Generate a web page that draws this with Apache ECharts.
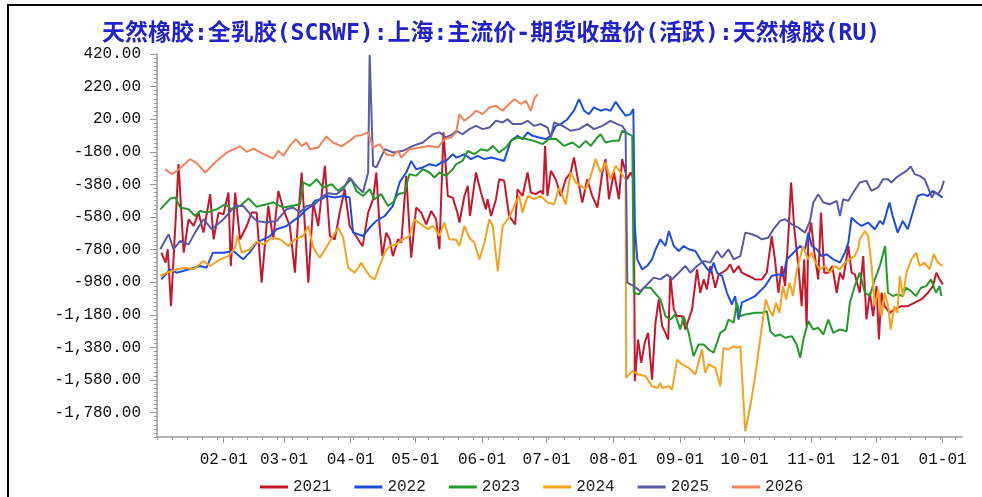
<!DOCTYPE html>
<html>
<head>
<meta charset="utf-8">
<script src="https://cdn.jsdelivr.net/npm/echarts@6/dist/echarts.min.js"></script>
<style>
html, body { margin: 0; padding: 0; background: #fff; }
#chart { width: 982px; height: 497px; }
#frame { position: absolute; left: 7px; top: 4px; right: 0; bottom: 0;
  border-top: 2px solid #000; border-left: 2px solid #000; pointer-events: none; }
</style>
</head>
<body>
<div id="chart"></div>
<div id="frame"></div>
<script>
// x = day of year (0 = 01-01), y = spread
const years = ['2021', '2022', '2023', '2024', '2025', '2026'];
const colors = ['#c8162e', '#1c4fe0', '#239a2a', '#f6a21c', '#5a5aa8', '#f4825a'];

const monthDays = [31, 59, 90, 120, 151, 181, 212, 243, 273, 304, 334, 365];
const monthLabels = ['02-01', '03-01', '04-01', '05-01', '06-01', '07-01',
  '08-01', '09-01', '10-01', '11-01', '12-01', '01-01'];
const yLabelValues = [420, 220, 20, -180, -380, -580, -780, -980, -1180, -1380, -1580, -1780];

const d2021 = [[2,-799],[4,-860],[5,-778],[6.5,-1127],[8.5,-635],[10,-256],[12.4,-799],[14.7,-594],[17,-635],[19.3,-553],
  [21.6,-676],[24.7,-440],[26.3,-717],[28.6,-553],[30.9,-563],[33.2,-430],[34.3,-881],[36.3,-430],[38.6,-717],[41.7,-635],
  [44,-553],[46.3,-553],[48.6,-983],[51.7,-512],[54,-717],[56.4,-420],[58.7,-533],[61.7,-635],[64.1,-922],[65.6,-574],
  [67.2,-307],[68.7,-635],[70.3,-983],[72.6,-491],[74.9,-635],[78,-266],[80.3,-697],[82.6,-717],[84.9,-553],[87.2,-410],
  [89.5,-635],[92.6,-700],[95.5,-760],[98.1,-553],[100.4,-471],[101.9,-307],[103.4,-635],[104.7,-820],[106.5,-676],[108.1,-717],
  [109.6,-820],[112,-717],[113.5,-737],[115.8,-328],[118.1,-830],[120.4,-522],[122.7,-553],[125.1,-625],[127.4,-543],[129.7,-594],
  [131.2,-778],[133.1,-61],[135.1,-451],[137.4,-461],[139.7,-560],[140.5,-614],[142.8,-451],[144.4,-389],[145.4,-574],[146.7,-451],
  [148.2,-307],[150.5,-430],[152.8,-533],[153.6,-471],[155.2,-574],[157.5,-471],[159,-348],[161.3,-358],[163.6,-574],[166.4,-625],
  [167.5,-410],[169.8,-451],[172.2,-307],[173.7,-430],[176,-440],[178.3,-420],[179.4,-440],[180.3,-144],[181.4,-451],[183,-297],
  [185.3,-350],[187.6,-451],[189.9,-348],[192.2,-307],[193.7,-215],[196.1,-389],[197.6,-491],[199.9,-348],[202.2,-451],[204.6,-522],
  [206.9,-307],[208.4,-225],[210,-471],[212.3,-307],[214.6,-471],[216.1,-225],[218.5,-348],[220,-307],[221.5,-348],[222,-1588],
  [223.5,-1332],[225,-1475],[226.6,-1352],[228.2,-1291],[230,-1578],[231.6,-1229],[233.1,-1086],[234.7,-1250],[236.2,-1291],[237.5,-1332],
  [238.5,-942],[240.1,-1147],[241.6,-1188],[243.9,-1188],[245.5,-1270],[247,-1209],[248.6,-1147],[250.9,-901],[252.4,-1045],[254,-963],
  [255.5,-1024],[257.1,-881],[259.4,-1014],[261,-932],[262.5,-922],[264.8,-901],[266.3,-871],[267.9,-922],[270.2,-881],[271.7,-922],
  [274.8,-942],[278,-963],[281,-963],[283.3,-922],[285.6,-697],[287.1,-840],[288.7,-1045],[290.3,-881],[291.8,-1004],[293.3,-697],
  [294.6,-368],[296.1,-655],[298,-881],[299.5,-1127],[300.7,-840],[301.8,-1250],[302.6,-717],[303.9,-614],[305.4,-799],[307.2,-963],
  [308.5,-553],[310,-922],[311.9,-922],[313.7,-881],[315.8,-1045],[317.3,-922],[318.8,-963],[321.2,-758],[322.7,-922],[324.2,-932],
  [326.5,-1045],[328.1,-820],[329.6,-1209],[331.2,-1045],[332.7,-1188],[334.3,-1004],[335.4,-1332],[336.6,-1045],[338.1,-1127],[340.4,-1168],
  [342.7,-1147],[345.8,-1127],[348.9,-1127],[352,-1106],[355.1,-1086],[358.2,-1045],[360.5,-1004],[362.1,-922],[363.6,-963],[365.1,-994]];

const d2022 = [[2,-963],[6,-901],[9,-922],[12,-912],[15,-901],[20,-881],[23,-891],[26,-799],[31,-799],[35.5,-789],
  [40,-840],[43,-799],[46.3,-737],[52.5,-697],[55.6,-655],[60.2,-635],[63.3,-604],[66.4,-574],[69.5,-533],[71.8,-512],
  [73.3,-481],[76.4,-471],[78.7,-451],[82.6,-461],[86.5,-451],[89.5,-461],[91.1,-676],[93.4,-686],[95.7,-697],[98.8,-645],
  [101.9,-604],[105.8,-574],[109.6,-512],[112.7,-368],[115.8,-307],[118.1,-236],[120.4,-287],[123.5,-276],[126.6,-256],[129.7,-266],
  [132,-246],[134.3,-236],[137.4,-195],[139,-215],[141.3,-205],[142.8,-195],[145.9,-225],[149,-205],[152.1,-225],[155.2,-215],
  [158.3,-225],[161.3,-236],[164.4,-113],[167.5,-82],[169.8,-102],[172.2,-61],[174.5,-82],[177.5,-92],[180.6,-102],[183,-82],
  [185.3,-21],[187.6,-10],[190.7,20],[193.7,72],[196.1,143],[198.4,72],[200.7,51],[203,92],[206.1,72],[208.4,82],
  [210.7,72],[213.1,127],[215.4,82],[217.7,41],[220,51],[221.3,82],[222,-635],[223.1,-840],[225.4,-901],[227.7,-881],
  [230,-840],[231.6,-780],[233.9,-717],[236.2,-758],[237.8,-666],[240.1,-758],[242.4,-789],[244.7,-758],[247,-778],[250.1,-789],
  [252.4,-840],[254.7,-881],[257.1,-922],[258.6,-860],[260.2,-922],[262.5,-942],[264.8,-1045],[267.1,-1117],[268.6,-1065],[270.2,-1209],
  [271.7,-1106],[274.8,-1086],[277.9,-1065],[282.5,-1004],[285.6,-942],[288.7,-932],[291,-942],[292.6,-840],[295.7,-799],[298.8,-758],
  [301.1,-778],[302.6,-676],[304.2,-758],[306.5,-778],[308.8,-820],[311.1,-809],[314.2,-840],[317.3,-860],[319.6,-799],[321.2,-737],
  [322.7,-584],[325.1,-614],[327.3,-635],[330.4,-614],[333.5,-655],[335.8,-604],[337.4,-625],[340.3,-491],[341.8,-574],[344.1,-676],
  [346.5,-604],[348.8,-655],[351.1,-553],[353.4,-451],[355.7,-440],[358.1,-451],[360.4,-420],[362.7,-440],[365,-461]];

const d2023 = [[1.5,-533],[6.2,-467],[8.5,-461],[10.8,-522],[14.7,-533],[17.7,-574],[20,-543],[23.2,-553],[27.8,-533],[31.6,-502],
  [34.7,-533],[38.6,-512],[42.5,-467],[46.3,-517],[50.9,-502],[54,-491],[58.7,-522],[62.5,-512],[66.4,-502],[67.9,-368],
  [71,-389],[74.1,-348],[77.2,-399],[81.1,-379],[84.2,-420],[87.2,-389],[90.3,-348],[92.6,-420],[95.7,-451],[98.8,-410],
  [101.1,-471],[104.2,-440],[107.3,-512],[109.6,-491],[112,-440],[115,-430],[117.3,-317],[120.4,-328],[123.5,-287],[126.6,-307],
  [128.9,-338],[131.2,-307],[134.3,-328],[137.4,-287],[139,-256],[142,-236],[144.4,-174],[147.4,-195],[150.5,-164],[153.6,-174],
  [156,-144],[159,-184],[162.1,-154],[164.4,-113],[167.5,-92],[171.4,-102],[175.2,-113],[179.1,-133],[182.2,-102],[185.3,-100],
  [189.1,-144],[193,-123],[196.1,-154],[199.2,-113],[201.5,-144],[204.6,-92],[206.1,-72],[208.4,-123],[211.5,-113],[214.6,-113],
  [216.1,-51],[219.2,-72],[220.8,-82],[221.5,-1045],[223.9,-1055],[226.2,-1014],[229.3,-1014],[231.6,-1050],[233.9,-1086],[236.2,-1188],
  [238.5,-1209],[240.8,-1178],[243.1,-1270],[244.7,-1188],[247,-1291],[249.3,-1434],[251.6,-1362],[254,-1362],[256.3,-1393],[258.6,-1413],
  [261.7,-1291],[264,-1270],[265.5,-1209],[267.9,-1229],[269.4,-1106],[271,-1188],[273.3,-1178],[277.9,-1168],[281,-1168],[283.3,-1158],
  [285,-1281],[287.2,-1311],[289.5,-1301],[291.8,-1321],[294.9,-1311],[297.2,-1362],[298.8,-1444],[300.3,-1332],[302.6,-1219],[304.9,-1270],
  [307.2,-1260],[309.6,-1301],[311.9,-1209],[314.2,-1291],[317.3,-1270],[320.4,-1281],[321.9,-1106],[324.2,-1004],[326.5,-922],[328.9,-1045],
  [331.2,-1065],[333.5,-963],[335.8,-881],[338.3,-758],[339.6,-1045],[341.9,-1065],[344.1,-1055],[346.4,-1065],[348,-1014],[350.3,-1035],
  [352.6,-1065],[355,-1014],[357.3,-1004],[359.6,-963],[361.9,-1045],[363.6,-1004],[364.4,-1065]];

const d2024 = [[1.5,-942],[4.6,-922],[9.3,-901],[13.1,-891],[17,-901],[21.6,-850],[24.7,-881],[29.3,-840],[33.2,-820],[36.3,-768],
  [37.4,-697],[39.4,-799],[43.2,-778],[46.3,-730],[49.4,-748],[53.3,-707],[57.1,-717],[61,-758],[64.1,-717],[67.9,-697],
  [70.3,-635],[72.6,-768],[75.6,-830],[77.2,-799],[81.8,-697],[84.2,-645],[86.5,-707],[88.8,-891],[91.9,-922],[95,-860],
  [95.7,-881],[98.8,-942],[101.1,-963],[103.4,-881],[105.8,-799],[108.1,-758],[111.2,-748],[114.3,-717],[117.3,-697],[119.6,-594],
  [122.7,-625],[125.8,-655],[128.2,-635],[131.2,-697],[133.5,-614],[135.8,-717],[139,-720],[140.5,-758],[142.8,-635],[145.1,-707],
  [147.4,-737],[149.8,-840],[152.1,-737],[154.4,-594],[156,-635],[158.3,-912],[160.6,-635],[163.6,-584],[166.7,-491],[168.3,-451],
  [169.8,-553],[172.2,-451],[175.2,-471],[178.3,-451],[181.4,-491],[184.5,-502],[186.8,-400],[189.9,-502],[192.2,-307],[194.5,-368],
  [196.9,-389],[199.2,-410],[201.5,-328],[203.8,-225],[206.1,-307],[208.4,-246],[210.7,-348],[213.1,-266],[215.4,-307],[217.7,-348],
  [218,-1567],[220.8,-1526],[223.9,-1547],[227,-1557],[230,-1619],[232.4,-1629],[233.9,-1600],[234.7,-1629],[237.8,-1619],[239.3,-1639],
  [241.6,-1455],[243.9,-1485],[247,-1506],[250.1,-1547],[253.2,-1393],[254.7,-1536],[256.3,-1485],[259.4,-1506],[261.7,-1619],[263.2,-1383],
  [265.5,-1393],[267.9,-1373],[269.4,-1383],[271,-1373],[273.3,-1895],[275.6,-1742],[277.9,-1557],[280.2,-1332],[282.8,-1086],[284.4,-1147],
  [286.1,-1188],[287.6,-1106],[289.2,-1168],[290.8,-1004],[292.3,-1086],[293.9,-983],[295.5,-1065],[297,-922],[298.6,-840],[300.1,-758],
  [302.5,-840],[304,-799],[305.6,-850],[307.9,-901],[310.2,-881],[312.5,-922],[314.8,-881],[317.2,-901],[319.5,-860],[321.8,-840],
  [324.1,-820],[325.7,-778],[326.5,-717],[328.9,-666],[330.4,-697],[332,-881],[333.5,-1127],[335.1,-1024],[336.6,-1188],[338.1,-1045],
  [339.7,-1127],[340.9,-1270],[342.5,-1127],[344,-1168],[345.1,-942],[346.6,-1065],[348.2,-922],[350.5,-840],[352.8,-799],[354.3,-881],
  [356.6,-860],[358.9,-901],[360.9,-809],[362.8,-860],[365.1,-881]];

const d2025 = [[1.5,-778],[5.4,-686],[7.7,-778],[10.8,-727],[14.7,-748],[17.7,-676],[21.6,-594],[25.5,-656],[30.9,-594],[36.3,-512],
  [40.1,-512],[44,-574],[46.3,-604],[50.9,-614],[55.6,-604],[60.2,-533],[63.3,-522],[66.4,-553],[69.5,-512],[73.3,-502],
  [77.2,-451],[79.5,-434],[83.4,-440],[86.5,-410],[89.5,-338],[92.6,-389],[95.7,-430],[98.1,-307],[98.8,415],[100.4,-266],
  [101.9,-276],[105.8,-164],[109.6,-184],[114.3,-174],[118.9,-144],[123.5,-123],[128.2,-72],[131.2,-61],[134.3,-92],[137.4,-72],
  [139,-51],[142,-72],[145.1,-41],[148.2,-21],[151.3,-41],[154.4,-31],[157.5,10],[160.6,0],[162.9,20],[165.2,-10],
  [169.1,-10],[172.2,10],[175.2,-21],[178.3,-10],[181.4,-31],[183,-92],[184.5,0],[188.4,-21],[192.2,-51],[196.1,-41],
  [199.9,-10],[203,-41],[206.9,-21],[210.7,10],[213.8,-10],[216.1,-21],[217.7,-51],[218.5,-983],[221.5,-1004],[224.6,-1035],
  [227.7,-994],[230.8,-952],[233.9,-963],[237,-932],[239.3,-963],[242.4,-922],[245.5,-881],[247.8,-922],[250.9,-881],[254,-850],
  [257.1,-860],[260.2,-789],[262.5,-830],[265.5,-778],[267.9,-840],[271,-820],[273.3,-676],[276.4,-686],[279,-700],[281,-717],
  [284,-707],[286.4,-655],[289.5,-604],[291.8,-594],[294.9,-625],[297.9,-645],[301.1,-676],[303.4,-604],[304.9,-491],[307.2,-440],
  [309.6,-491],[312.6,-502],[315.8,-481],[317.3,-574],[318.8,-471],[321.2,-481],[323.5,-430],[326.5,-368],[329.6,-358],[331.9,-420],
  [335,-399],[337.3,-348],[339.6,-348],[341.2,-368],[343.5,-338],[345.8,-317],[348.2,-297],[350.2,-270],[352,-317],[354.3,-328],
  [356.6,-348],[358.2,-399],[360,-461],[361.3,-430],[362.8,-440],[364.4,-410],[365.6,-358]];

const d2026 = [[3.8,-287],[6.9,-317],[9.3,-297],[11.6,-270],[15.4,-225],[18.5,-250],[22.4,-307],[27,-246],[32.4,-184],[38.6,-147],
  [41.7,-180],[44.8,-160],[48.6,-188],[49.4,-195],[54,-221],[56.4,-174],[58.7,-205],[61.7,-144],[64.5,-102],[67.2,-144],
  [69.5,-123],[71,-164],[74.9,-154],[78.7,-86],[81.8,-123],[85.7,-147],[89.5,-113],[92.6,-82],[95,-78],[98.1,-61],
  [100.4,-154],[103.4,-133],[106.5,-195],[109.6,-205],[112,-174],[113.5,-215],[117.3,-164],[122,-154],[126.6,-144],[130.5,-154],
  [133.5,-102],[136.6,-92],[139,-61],[140.5,51],[142.8,10],[145.9,41],[148.2,72],[151.3,51],[154.4,92],[157.5,102],
  [160.6,72],[163.6,113],[166,143],[169.1,113],[171.4,133],[173.7,72],[175.2,143],[176.8,174]];

const seriesData = [d2021, d2022, d2023, d2024, d2025, d2026];

// minor ticks
const weekDays = [];
for (let d = 0; d <= 374; d += 7) weekDays.push(d);
const yMinor = [];
for (let v = 420; v >= -1930; v -= 25) yMinor.push(v);

const mono = '"Liberation Mono", "DejaVu Sans Mono", monospace';
const axisGray = '#9a9a9a';

function yFmt(v) {
  return v.toLocaleString('en-US', { minimumFractionDigits: 2, maximumFractionDigits: 2 });
}

const chart = echarts.init(document.getElementById('chart'));
chart.setOption({
  animation: false,
  backgroundColor: '#fff',
  color: colors,
  title: {
    text: '天然橡胶:全乳胶(SCRWF):上海:主流价-期货收盘价(活跃):天然橡胶(RU)',
    left: 'center',
    top: 18,
    textStyle: {
      color: '#2222cc',
      fontSize: 23,
      fontWeight: 'bold',
      fontFamily: '"DejaVu Sans Mono", "Noto Sans CJK SC"'
    }
  },
  legend: {
    left: 255,
    top: 474,
    icon: 'rect',
    itemWidth: 28,
    itemHeight: 3,
    itemGap: 23,
    data: years,
    textStyle: { fontFamily: mono, fontSize: 16, color: '#222' }
  },
  grid: { left: 157, right: 20, top: 54, bottom: 60 },
  xAxis: [{
    type: 'value',
    min: 0,
    max: 374,
    axisLine: { onZero: false, lineStyle: { color: axisGray, width: 1.5 } },
    axisTick: { customValues: monthDays, length: 6, lineStyle: { color: axisGray } },
    axisLabel: {
      customValues: monthDays,
      margin: 15,
      color: '#111',
      fontFamily: mono,
      fontSize: 16,
      formatter: v => monthLabels[monthDays.indexOf(v)] || ''
    },
    splitLine: { show: false }
  }, {
    type: 'value',
    min: 0,
    max: 374,
    position: 'bottom',
    axisLine: { show: false, onZero: false },
    axisTick: { customValues: weekDays, length: 3, lineStyle: { color: axisGray } },
    axisLabel: { show: false },
    splitLine: { show: false }
  }],
  yAxis: [{
    type: 'value',
    min: -1930,
    max: 420,
    axisLine: { show: true, onZero: false, lineStyle: { color: axisGray, width: 1.5 } },
    axisTick: { show: true, customValues: yLabelValues, length: 7, lineStyle: { color: axisGray } },
    axisLabel: {
      customValues: yLabelValues,
      margin: 16,
      color: '#111',
      fontFamily: mono,
      fontSize: 16,
      formatter: yFmt
    },
    splitLine: { show: false }
  }, {
    type: 'value',
    min: -1930,
    max: 420,
    position: 'left',
    axisLine: { show: false, onZero: false },
    axisTick: { show: true, customValues: yMinor, length: 3, lineStyle: { color: axisGray } },
    axisLabel: { show: false },
    splitLine: { show: false }
  }],
  series: years.map((y, i) => ({
    name: y,
    type: 'line',
    data: seriesData[i],
    showSymbol: false,
    symbol: 'none',
    lineStyle: { width: 2, color: colors[i] },
    itemStyle: { color: colors[i] }
  }))
});
</script>
</body>
</html>
